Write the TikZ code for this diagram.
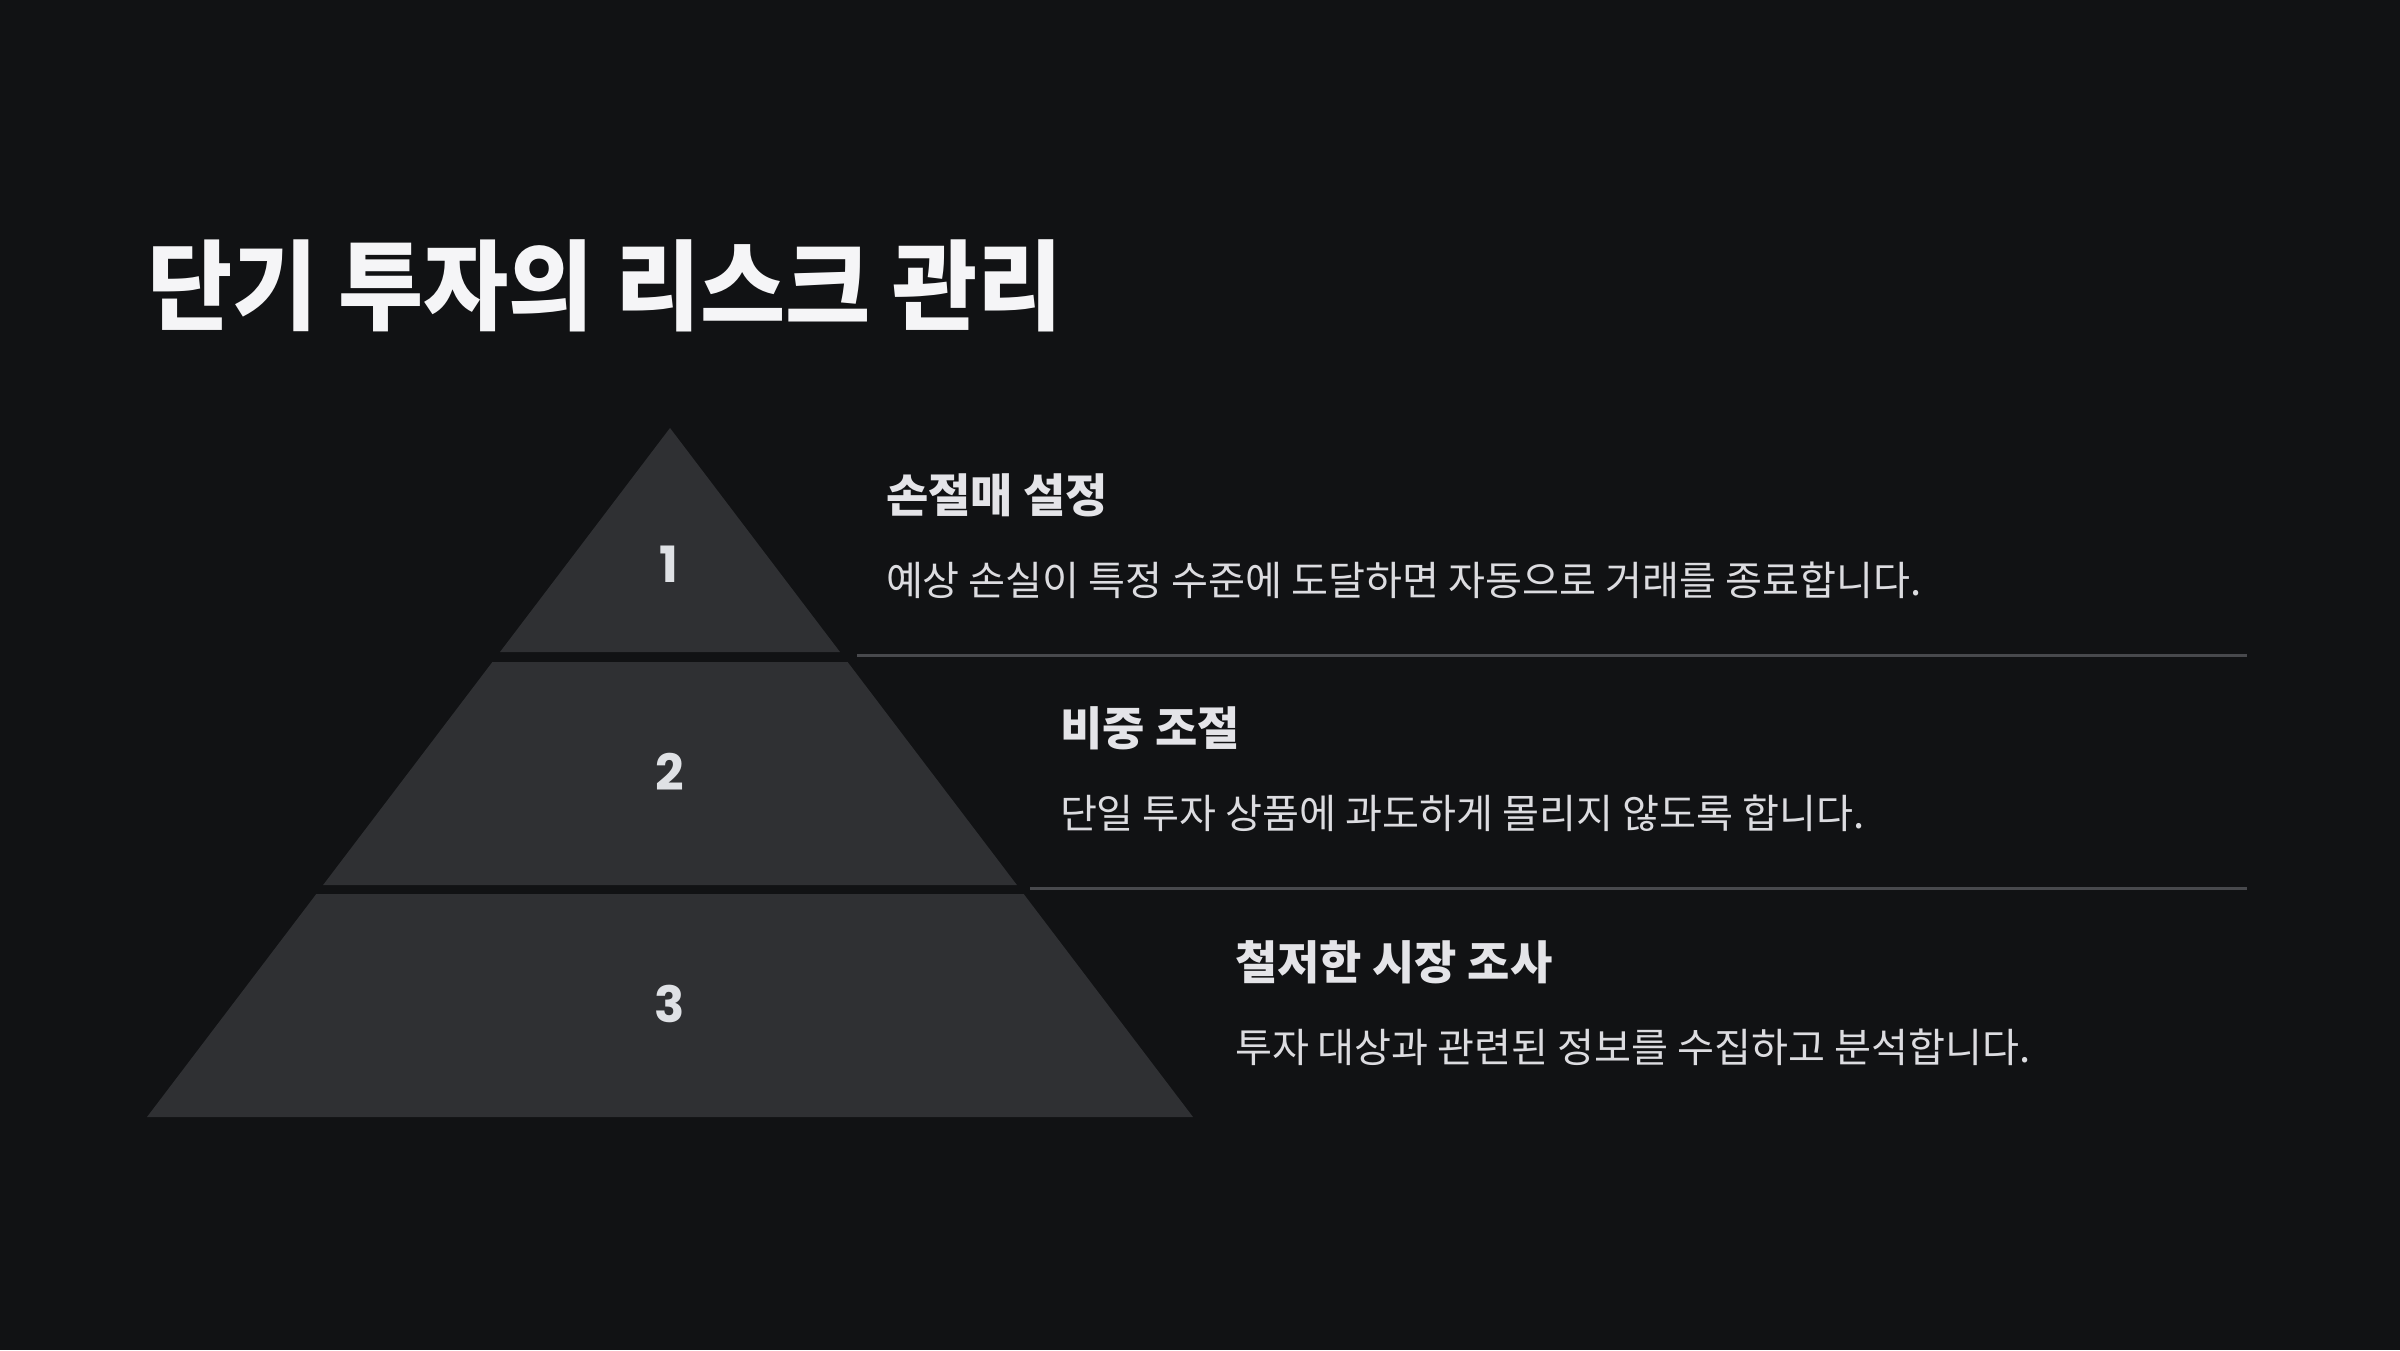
\documentclass[tikz,border=0pt]{standalone}
\usepackage{fontspec}
\usepackage{tikz}
\usetikzlibrary{positioning,calc}
\newfontfamily\kr{Noto Sans CJK KR}
\newfontfamily\krtitle{Noto Sans CJK KR}[FakeStretch=0.945]
\newfontfamily\numfont{Poppins}
\definecolor{bg}{HTML}{111214}
\definecolor{tierfill}{HTML}{2F3033}
\definecolor{titlewhite}{HTML}{F5F5F7}
\definecolor{headgray}{HTML}{E4E4E8}
\definecolor{descgray}{HTML}{DCDCE0}
\definecolor{rulegray}{HTML}{48494D}
\definecolor{numgray}{HTML}{DFE1E5}

\begin{document}
\begin{tikzpicture}[
  x=1pt,y=-1pt,
  every node/.style={inner sep=0pt,outer sep=0pt},
  tier/.style={fill=tierfill},
  num/.style={font=\numfont\bfseries\fontsize{50}{60}\selectfont,text=numgray},
  head/.style={anchor=west,font=\kr\bfseries\fontsize{46}{54}\selectfont,text=headgray},
  desc/.style={anchor=west,font=\kr\fontsize{40.2}{48}\selectfont,text=descgray},
  rule/.style={draw=rulegray,line width=3pt}
]
\useasboundingbox (0,0) rectangle (2400,1350);
\fill[bg] (0,0) rectangle (2400,1350);

\node[anchor=west,font=\krtitle\bfseries\fontsize{98}{110}\selectfont,text=titlewhite]
  (title) at (147,286) {단기 투자의 리스크 관리};

% pyramid tiers
\fill[tier] (670,428) -- (840,652) -- (500,652) -- cycle;
\fill[tier] (492.4,662) -- (847.6,662) -- (1016.9,885) -- (323.1,885) -- cycle;
\fill[tier] (316.3,894) -- (1023.7,894) -- (1193,1117) -- (147,1117) -- cycle;

\node[num] (n1) at (669,564) {1};
\node[num] (n2) at (670,772) {2};
\node[num] (n3) at (670,1004) {3};

% texts
\node[head] (h1) at (886,495) {손절매 설정};
\node[desc] (d1) at (886,580) {예상 손실이 특정 수준에 도달하면 자동으로 거래를 종료합니다.};
\node[head] (h2) at (1060,728) {비중 조절};
\node[desc] (d2) at (1060,813) {단일 투자 상품에 과도하게 몰리지 않도록 합니다.};
\node[head] (h3) at (1235,962) {철저한 시장 조사};
\node[desc] (d3) at (1235,1047) {투자 대상과 관련된 정보를 수집하고 분석합니다.};

% separators
\coordinate (r1a) at (857,655);
\coordinate (r1b) at (2247,655);
\coordinate (r2a) at (1030,888);
\coordinate (r2b) at (2247,888);
\draw[rule] (r1a) -- (r1b);
\draw[rule] (r2a) -- (r2b);
\end{tikzpicture}
\end{document}
